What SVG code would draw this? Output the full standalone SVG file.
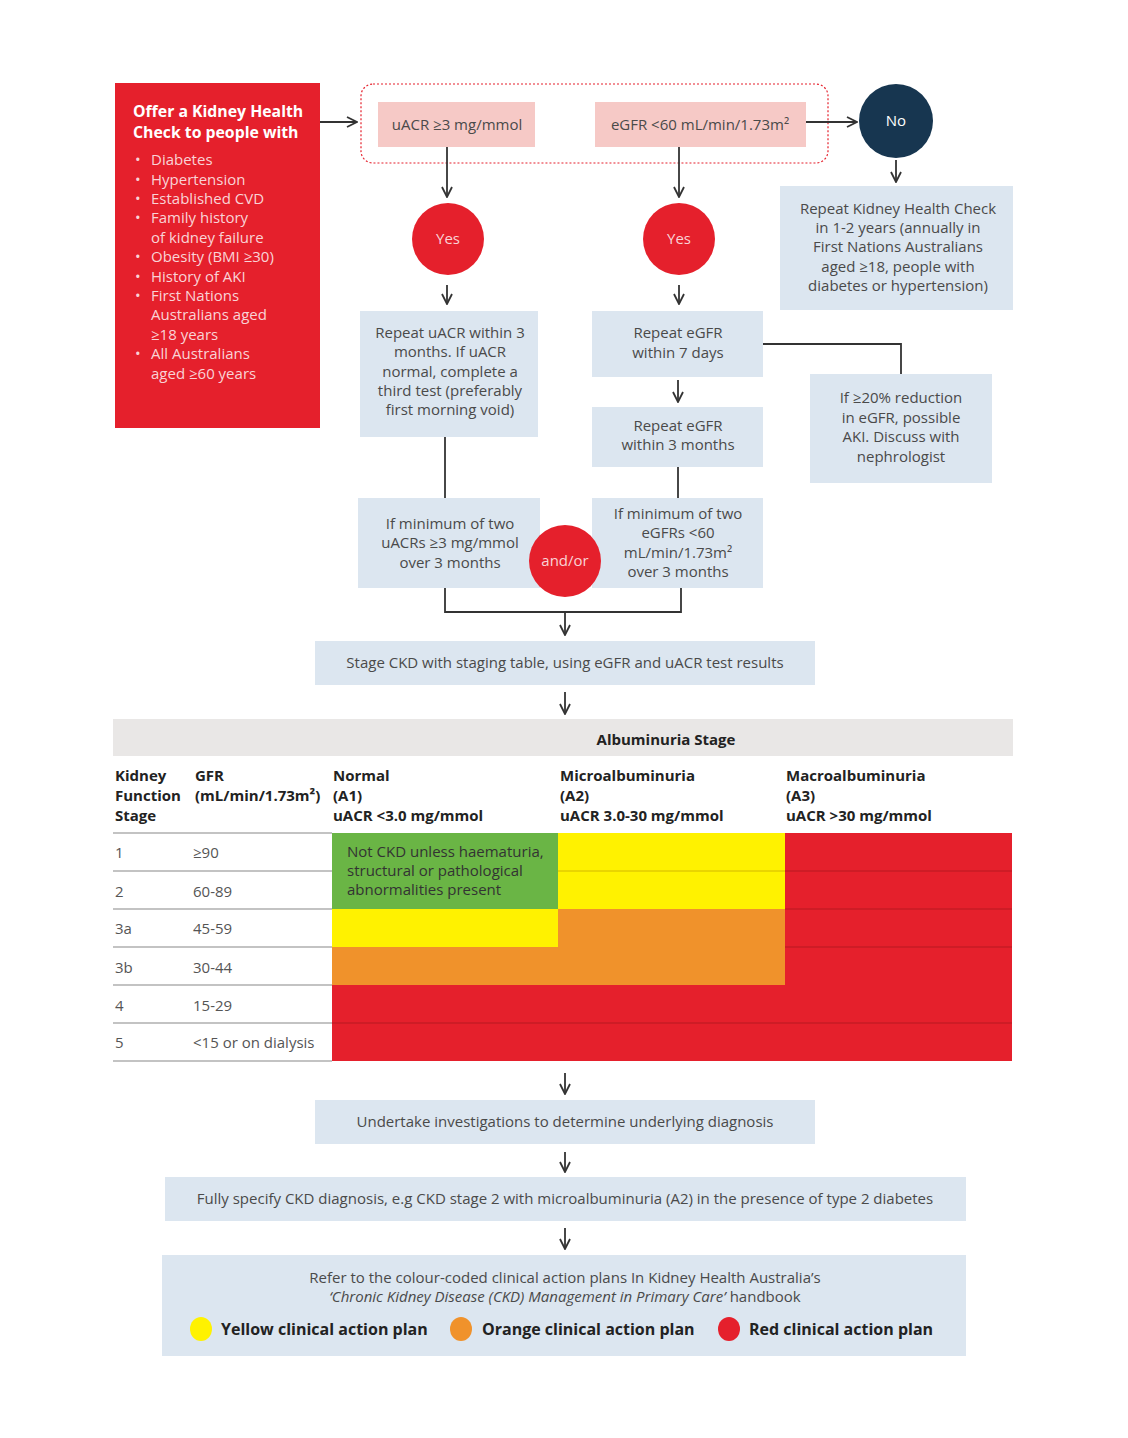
<svg xmlns="http://www.w3.org/2000/svg" width="1128" height="1438" viewBox="0 0 1128 1438">
<defs>
<marker id="ah" viewBox="0 0 12 12" refX="11" refY="6" markerWidth="12" markerHeight="12" markerUnits="userSpaceOnUse" orient="auto">
<path d="M1,1 L11,6 L1,11" fill="none" stroke="#333" stroke-width="1.8"/>
</marker>
<style>
.t{font-family:"Open Sans","Liberation Sans",sans-serif;font-size:15px;fill:#4a4a4a}
.c{text-anchor:middle}
.b{font-weight:bold}
.box{fill:#dce6f0}
.pink{fill:#f6c9c6}
.red{fill:#e5202c}
.cn{stroke:#333;stroke-width:1.8;fill:none}
.ar{stroke:#333;stroke-width:1.8;fill:none;marker-end:url(#ah)}
.rl{stroke:#888;stroke-width:1.2}
</style>
</defs>
<rect width="1128" height="1438" fill="#fff"/>

<g id="offer">
<rect x="115" y="83" width="205" height="345" class="red"/>
<text class="t b" x="133" y="117" style="fill:#fff;font-size:15.8px">Offer a Kidney Health</text>
<text class="t b" x="133" y="138" style="fill:#fff;font-size:15.8px">Check to people with</text>
<g class="t" style="fill:#f9d3d6">
<text x="135" y="165">•</text><text x="151" y="165">Diabetes</text>
<text x="135" y="185">•</text><text x="151" y="185">Hypertension</text>
<text x="135" y="204">•</text><text x="151" y="204">Established CVD</text>
<text x="135" y="223">•</text><text x="151" y="223">Family history</text>
<text x="151" y="243">of kidney failure</text>
<text x="135" y="262">•</text><text x="151" y="262">Obesity (BMI ≥30)</text>
<text x="135" y="282">•</text><text x="151" y="282">History of AKI</text>
<text x="135" y="301">•</text><text x="151" y="301">First Nations</text>
<text x="151" y="320">Australians aged</text>
<text x="151" y="340">≥18 years</text>
<text x="135" y="359">•</text><text x="151" y="359">All Australians</text>
<text x="151" y="379">aged ≥60 years</text>
</g>
</g>

<g id="criteria">
<rect x="361" y="84" width="467" height="79" rx="12" fill="none" stroke="#e5202c" stroke-width="1.2" stroke-dasharray="2,2"/>
</g>
<g id="uacr">
<rect x="378" y="102" width="157" height="45" class="pink"/>
<text class="t c" x="457" y="130">uACR ≥3 mg/mmol</text>
</g>
<g id="egfr">
<rect x="595" y="102" width="211" height="45" class="pink"/>
<text class="t c" x="700" y="130">eGFR &lt;60 mL/min/1.73m²</text>
</g>
<g id="no">
<circle cx="896" cy="121" r="37" fill="#173650"/>
<text class="t c" x="896" y="126" style="fill:#fff">No</text>
</g>
<g id="repeatcheck">
<rect x="780" y="186" width="233" height="124" class="box"/>
<text class="t c" x="898" y="214">Repeat Kidney Health Check</text>
<text class="t c" x="898" y="233">in 1-2 years (annually in</text>
<text class="t c" x="898" y="252">First Nations Australians</text>
<text class="t c" x="898" y="272">aged ≥18, people with</text>
<text class="t c" x="898" y="291">diabetes or hypertension)</text>
</g>
<g id="yes1">
<circle cx="448" cy="239" r="36" class="red"/>
<text class="t c" x="448" y="244" style="fill:#f9d3d6">Yes</text>
</g>
<g id="yes2">
<circle cx="679" cy="239" r="36" class="red"/>
<text class="t c" x="679" y="244" style="fill:#f9d3d6">Yes</text>
</g>
<g id="repeatuacr">
<rect x="360" y="311" width="178" height="126" class="box"/>
<text class="t c" x="450" y="338">Repeat uACR within 3</text>
<text class="t c" x="450" y="357">months. If uACR</text>
<text class="t c" x="450" y="377">normal, complete a</text>
<text class="t c" x="450" y="396">third test (preferably</text>
<text class="t c" x="450" y="415">first morning void)</text>
</g>
<g id="repeategfr7">
<rect x="592" y="311" width="171" height="66" class="box"/>
<text class="t c" x="678" y="338">Repeat eGFR</text>
<text class="t c" x="678" y="358">within 7 days</text>
</g>
<g id="aki">
<rect x="810" y="374" width="182" height="109" class="box"/>
<text class="t c" x="901" y="403">If ≥20% reduction</text>
<text class="t c" x="901" y="423">in eGFR, possible</text>
<text class="t c" x="901" y="442">AKI. Discuss with</text>
<text class="t c" x="901" y="462">nephrologist</text>
</g>
<g id="repeategfr3">
<rect x="592" y="407" width="171" height="60" class="box"/>
<text class="t c" x="678" y="431">Repeat eGFR</text>
<text class="t c" x="678" y="450">within 3 months</text>
</g>
<g id="minuacr">
<rect x="358" y="498" width="182" height="90" class="box"/>
<text class="t c" x="450" y="529">If minimum of two</text>
<text class="t c" x="450" y="548">uACRs ≥3 mg/mmol</text>
<text class="t c" x="450" y="568">over 3 months</text>
</g>
<g id="minegfr">
<rect x="592" y="498" width="171" height="90" class="box"/>
<text class="t c" x="678" y="519">If minimum of two</text>
<text class="t c" x="678" y="538">eGFRs &lt;60</text>
<text class="t c" x="678" y="558">mL/min/1.73m²</text>
<text class="t c" x="678" y="577">over 3 months</text>
</g>
<g id="andor">
<circle cx="565" cy="561" r="36" class="red"/>
<text class="t c" x="565" y="566" style="fill:#f9d3d6">and/or</text>
</g>
<g id="stage">
<rect x="315" y="641" width="500" height="44" class="box"/>
<text class="t c" x="565" y="668">Stage CKD with staging table, using eGFR and uACR test results</text>
</g>

<g id="connectors">
<line x1="320" y1="122" x2="357" y2="122" class="ar"/>
<line x1="806" y1="122" x2="857" y2="122" class="ar"/>
<line x1="896" y1="160" x2="896" y2="182" class="ar"/>
<line x1="447" y1="147" x2="447" y2="197" class="ar"/>
<line x1="679" y1="147" x2="679" y2="197" class="ar"/>
<line x1="447" y1="285" x2="447" y2="304" class="ar"/>
<line x1="679" y1="285" x2="679" y2="304" class="ar"/>
<polyline points="763,344 901,344 901,374" class="cn"/>
<line x1="678" y1="380" x2="678" y2="402" class="ar"/>
<line x1="678" y1="467" x2="678" y2="498" class="cn"/>
<line x1="445" y1="437" x2="445" y2="498" class="cn"/>
<polyline points="445,588 445,612 681,612 681,588" class="cn"/>
<line x1="565" y1="612" x2="565" y2="635" class="ar"/>
<line x1="565" y1="692" x2="565" y2="714" class="ar"/>
<line x1="565" y1="1073" x2="565" y2="1094" class="ar"/>
<line x1="565" y1="1152" x2="565" y2="1172" class="ar"/>
<line x1="565" y1="1228" x2="565" y2="1249" class="ar"/>
</g>

<g id="table">
<rect x="113" y="719" width="900" height="37" fill="#e9e7e6"/>
<text class="t b c" x="666" y="745" style="fill:#222">Albuminuria Stage</text>
<g class="t b" style="fill:#222">
<text x="115" y="781">Kidney</text><text x="115" y="801">Function</text><text x="115" y="821">Stage</text>
<text x="195" y="781">GFR</text><text x="195" y="801">(mL/min/1.73m²)</text>
<text x="333" y="781">Normal</text><text x="333" y="801">(A1)</text><text x="333" y="821">uACR &lt;3.0 mg/mmol</text>
<text x="560" y="781">Microalbuminuria</text><text x="560" y="801">(A2)</text><text x="560" y="821">uACR 3.0-30 mg/mmol</text>
<text x="786" y="781">Macroalbuminuria</text><text x="786" y="801">(A3)</text><text x="786" y="821">uACR &gt;30 mg/mmol</text>
</g>
<rect x="332" y="833" width="226" height="76" fill="#6ab545"/>
<rect x="558" y="833" width="227" height="76" fill="#fff200"/>
<rect x="785" y="833" width="227" height="152" fill="#e5202c"/>
<rect x="332" y="909" width="226" height="38" fill="#fff200"/>
<rect x="558" y="909" width="227" height="76" fill="#f0922b"/>
<rect x="332" y="947" width="226" height="38" fill="#f0922b"/>
<rect x="332" y="985" width="680" height="76" fill="#e5202c"/>
<g stroke="#d4b800" stroke-width="1"><line x1="558" y1="871" x2="785" y2="871"/></g>
<g stroke="#b81820" stroke-width="1.2">
<line x1="785" y1="871" x2="1012" y2="871"/><line x1="785" y1="909" x2="1012" y2="909"/><line x1="785" y1="947" x2="1012" y2="947"/>
<line x1="332" y1="1023" x2="1012" y2="1023"/>
</g>
<g class="rl">
<line x1="113" y1="833" x2="332" y2="833"/>
<line x1="113" y1="871" x2="332" y2="871"/>
<line x1="113" y1="909" x2="332" y2="909"/>
<line x1="113" y1="947" x2="332" y2="947"/>
<line x1="113" y1="985" x2="332" y2="985"/>
<line x1="113" y1="1023" x2="332" y2="1023"/>
<line x1="113" y1="1061" x2="332" y2="1061"/>
</g>
<g class="t" style="fill:#555">
<text x="115" y="858">1</text><text x="193" y="858">≥90</text>
<text x="115" y="897">2</text><text x="193" y="897">60-89</text>
<text x="115" y="934">3a</text><text x="193" y="934">45-59</text>
<text x="115" y="973">3b</text><text x="193" y="973">30-44</text>
<text x="115" y="1011">4</text><text x="193" y="1011">15-29</text>
<text x="115" y="1048">5</text><text x="193" y="1048">&lt;15 or on dialysis</text>
</g>
<g class="t" style="fill:#333">
<text x="347" y="857">Not CKD unless haematuria,</text>
<text x="347" y="876">structural or pathological</text>
<text x="347" y="895">abnormalities present</text>
</g>
</g>

<g id="undertake">
<rect x="315" y="1100" width="500" height="44" class="box"/>
<text class="t c" x="565" y="1127">Undertake investigations to determine underlying diagnosis</text>
</g>
<g id="fullyspecify">
<rect x="165" y="1177" width="801" height="44" class="box"/>
<text class="t c" x="565" y="1204">Fully specify CKD diagnosis, e.g CKD stage 2 with microalbuminuria (A2) in the presence of type 2 diabetes</text>
</g>
<g id="refer">
<rect x="162" y="1255" width="804" height="101" class="box"/>
<text class="t c" x="565" y="1283">Refer to the colour-coded clinical action plans In Kidney Health Australia’s</text>
<text class="t c" x="565" y="1302"><tspan font-style="italic">‘Chronic Kidney Disease (CKD) Management in Primary Care’</tspan> handbook</text>
<ellipse cx="201" cy="1329" rx="11" ry="12" fill="#fff200"/>
<text class="t b" x="221" y="1335" style="fill:#222;font-size:16px">Yellow clinical action plan</text>
<ellipse cx="461" cy="1329" rx="11" ry="12" fill="#f0922b"/>
<text class="t b" x="482" y="1335" style="fill:#222;font-size:16px">Orange clinical action plan</text>
<ellipse cx="729" cy="1329" rx="11" ry="12" fill="#e5202c"/>
<text class="t b" x="749" y="1335" style="fill:#222;font-size:16px">Red clinical action plan</text>
</g>
</svg>
